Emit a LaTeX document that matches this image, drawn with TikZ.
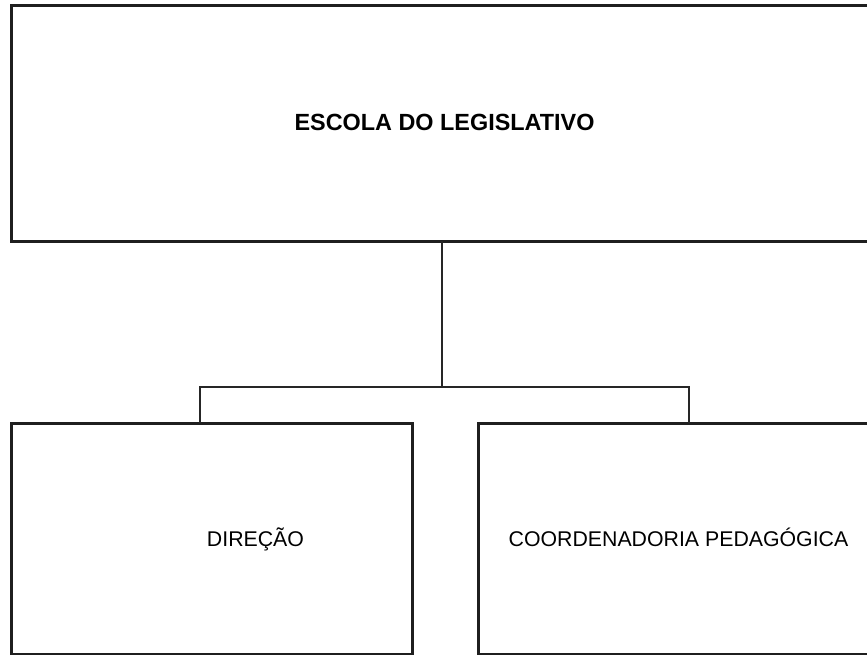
\documentclass[tikz,border=0pt]{standalone}
\usepackage{fontspec}
\setmainfont{Liberation Sans}
\begin{document}
\begin{tikzpicture}[x=1pt,y=-1pt,
  orgbox/.style={draw=black!88,line width=3pt,rectangle,inner sep=0pt,outer sep=0pt},
  conn/.style={draw=black!85,line width=1.5pt},
  toptext/.style={anchor=base,inner sep=0pt,font=\fontsize{23.4}{28}\selectfont\bfseries},
  subtext/.style={anchor=base,inner sep=0pt,font=\fontsize{21.3}{25}\selectfont}]
\useasboundingbox (0,0) rectangle (867,655);
\clip (0,0) rectangle (867,655);
\node[orgbox,minimum width=866pt,minimum height=235.5pt] (top) at (444.5,123.25) {};
\node[orgbox,minimum width=400.5pt,minimum height=231pt] (dir) at (211.75,538.5) {};
\node[orgbox,minimum width=399pt,minimum height=231pt] (coord) at (678.1,538.5) {};
\node[toptext] (toplbl) at (444.5,131) {ESCOLA DO LEGISLATIVO};
\node[subtext] (dirlbl) at (255.5,546.8) {DIREÇÃO};
\node[subtext] (coordlbl) at (678.5,546.8) {COORDENADORIA  PEDAGÓGICA};
\coordinate (j) at (442,387);
\coordinate (xl) at (200,387);
\coordinate (xr) at (689,387);
\draw[conn] (top.south -| j) -- (j);
\draw[conn] (dir.north -| xl) -- (xl) -- (xr) -- (coord.north -| xr);
\end{tikzpicture}
\end{document}
